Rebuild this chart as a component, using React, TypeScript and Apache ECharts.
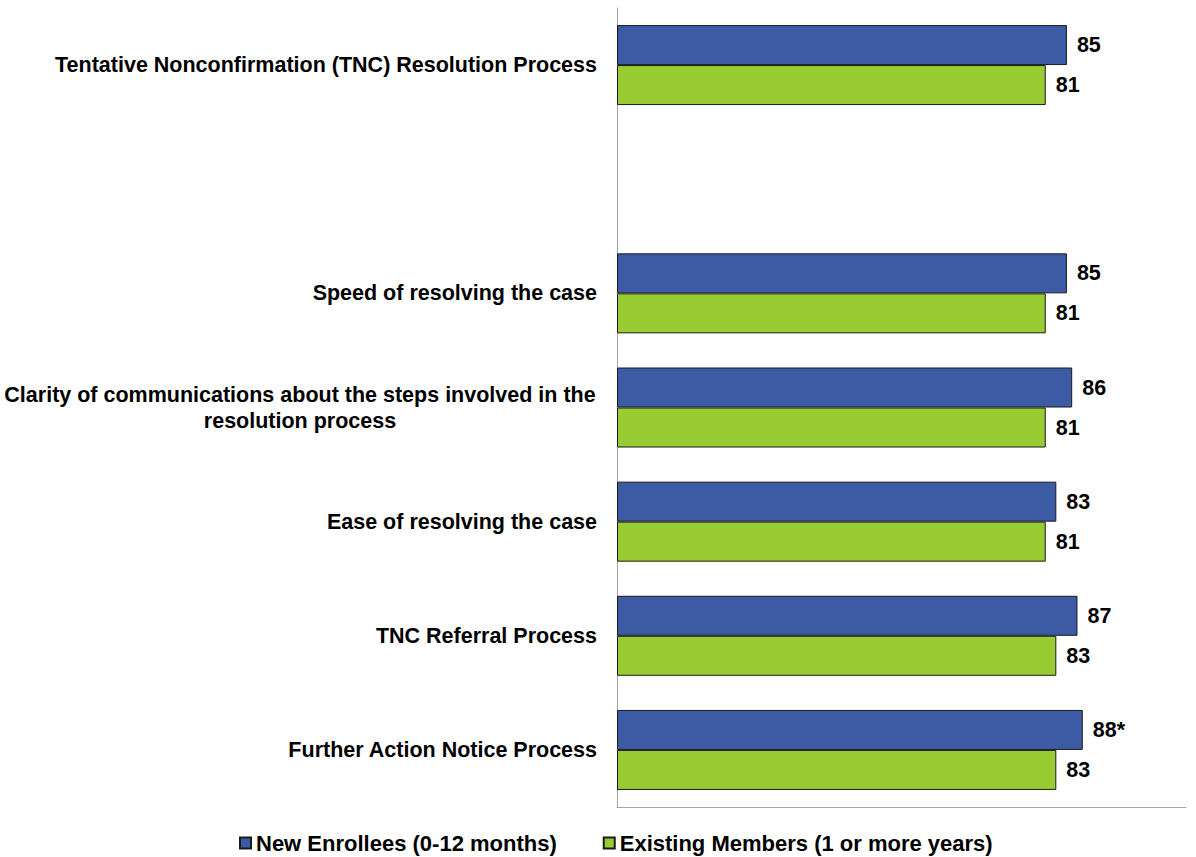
import React, { useEffect, useRef } from "react";
import * as echarts from "echarts";

const categories = [
  "Tentative Nonconfirmation (TNC) Resolution Process",
  "",
  "Speed of resolving the case",
  "Clarity of communications about the steps involved in the\nresolution process",
  "Ease of resolving the case",
  "TNC Referral Process",
  "Further Action Notice Process",
];
const newEnrollees: (number | null)[] = [85, null, 85, 86, 83, 87, 88];
const existingMembers: (number | null)[] = [81, null, 81, 81, 81, 83, 83];
const newEnrolleeMarks = ["", "", "", "", "", "", "*"];
const seriesNames = ["New Enrollees (0-12 months)", "Existing Members (1 or more years)"];

const FONT = "'Liberation Sans', Arial, sans-serif";
const FS = 21.5;

export default function App() {
  const ref = useRef<HTMLDivElement>(null);
  useEffect(() => {
    if (!ref.current) return;
    const chart = echarts.init(ref.current, null, { renderer: "svg" });
    const labelStyle = {
      show: true,
      position: "right" as const,
      distance: 10,
      fontSize: FS,
      fontWeight: "bold" as const,
      fontFamily: FONT,
      color: "#000",
    };
    chart.setOption({
      animation: false,
      backgroundColor: "#fff",
      textStyle: { fontFamily: FONT },
      grid: { left: 616, right: 10, top: 8, bottom: 50, containLabel: false },
      legend: {
        left: 234,
        top: 827,
        itemGap: 46,
        itemWidth: 11,
        itemHeight: 11,
        icon: "rect",
        textStyle: { fontSize: 22, fontWeight: "bold", fontFamily: FONT, color: "#000" },
        data: seriesNames,
      },
      xAxis: {
        type: "value",
        min: 0,
        max: 107.5,
        axisLabel: { show: false },
        axisTick: { show: false },
        splitLine: { show: false },
        axisLine: { show: true, lineStyle: { color: "#A6A6A6", width: 1 } },
      },
      yAxis: {
        type: "category",
        inverse: true,
        data: categories,
        axisTick: { show: false },
        axisLine: { show: true, lineStyle: { color: "#A6A6A6", width: 1 } },
        axisLabel: {
          margin: 20,
          fontSize: FS,
          fontWeight: "bold",
          fontFamily: FONT,
          color: "#000",
          lineHeight: 26,
          formatter: (v: string) => {
            if (v.indexOf("\n") >= 0) {
              return v
                .split("\n")
                .map((l) => "{c|" + l + "}")
                .join("\n");
            }
            return v;
          },
          rich: {
            c: {
              width: 594,
              align: "center",
              fontSize: FS,
              fontWeight: "bold",
              fontFamily: FONT,
              color: "#000",
              lineHeight: 26,
            },
          },
        },
      },
      series: [
        {
          name: seriesNames[0],
          type: "bar",
          data: newEnrollees,
          barWidth: 40,
          barGap: "0%",
          itemStyle: { color: "#3D5BA5", borderColor: "#1a1a1a", borderWidth: 1 },
          label: {
            ...labelStyle,
            formatter: (p: any) => (p.value == null ? "" : p.value + newEnrolleeMarks[p.dataIndex]),
          },
        },
        {
          name: seriesNames[1],
          type: "bar",
          data: existingMembers,
          barWidth: 40,
          barGap: "0%",
          itemStyle: { color: "#99CC33", borderColor: "#1a1a1a", borderWidth: 1 },
          label: {
            ...labelStyle,
            formatter: (p: any) => (p.value == null ? "" : String(p.value)),
          },
        },
      ],
    });
    return () => chart.dispose();
  }, []);
  return (
    <div
      ref={ref}
      style={{ position: "fixed", left: 0, top: 0, width: 1196, height: 857 }}
    />
  );
}
